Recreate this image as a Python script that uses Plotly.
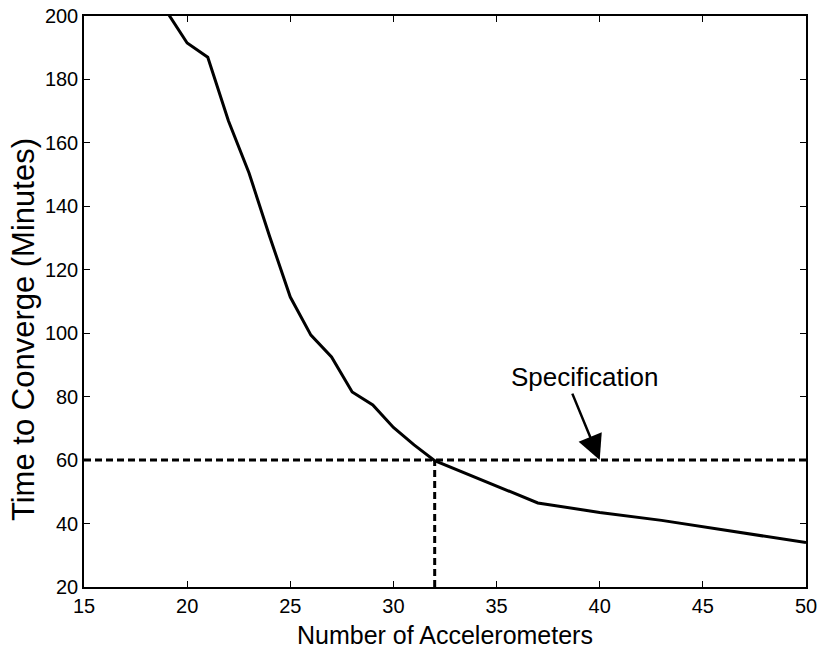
import plotly.graph_objects as go

# Data
accel = [19, 20, 21, 22, 23, 24, 25, 26, 27, 28, 29, 30, 31, 32, 37, 40, 43, 45, 48, 50]
minutes = [201.5, 191.5, 187, 167, 150.5, 130.5, 111.4, 99.4, 92.5, 81.5, 77.4, 70.3, 64.8, 59.8,
           46.5, 43.5, 41, 39, 36, 34]

spec_x = [15, 50]
spec_y = [60, 60]
cross_x = [32, 32]
cross_y = [20, 60]

x_ticks = [15, 20, 25, 30, 35, 40, 45, 50]
y_ticks = [20, 40, 60, 80, 100, 120, 140, 160, 180, 200]

FONT = "Liberation Sans, Arial, sans-serif"

fig = go.Figure()
fig.add_trace(go.Scatter(x=spec_x, y=spec_y, mode="lines",
                         line=dict(color="black", width=3, dash="7px,4px"),
                         showlegend=False, hoverinfo="skip"))
fig.add_trace(go.Scatter(x=cross_x, y=cross_y, mode="lines",
                         line=dict(color="black", width=3, dash="7px,4px"),
                         showlegend=False, hoverinfo="skip"))
fig.add_trace(go.Scatter(x=accel, y=minutes, mode="lines",
                         line=dict(color="black", width=3),
                         showlegend=False))

axis_common = dict(
    showgrid=False, zeroline=False, automargin=False,
    showline=True, linecolor="black", linewidth=1.5, mirror="ticks",
    ticks="inside", ticklen=6, tickwidth=1.2, tickcolor="black",
    tickfont=dict(family=FONT, size=20, color="black"),
)

fig.update_xaxes(range=[15, 50], tickvals=x_ticks, **axis_common)
fig.update_yaxes(range=[20, 200], tickvals=y_ticks, **axis_common)

fig.update_layout(
    width=818, height=649,
    margin=dict(l=84, r=12, t=16, b=62, autoexpand=False),
    plot_bgcolor="white", paper_bgcolor="white",
    font=dict(family=FONT, color="black"),
    annotations=[
        dict(text="Number of Accelerometers", xref="paper", yref="paper",
             x=0.5, y=0, xanchor="center", yanchor="middle", yshift=-48,
             showarrow=False, font=dict(family=FONT, size=25, color="black")),
        dict(text="Time to Converge (Minutes)", xref="paper", yref="paper",
             x=0, y=0.45, xanchor="center", yanchor="middle", xshift=-61,
             textangle=-90, showarrow=False,
             font=dict(family=FONT, size=31, color="black")),
        dict(text="Specification", xref="x", yref="y",
             x=39.25, y=60, xanchor="center", yanchor="middle", yshift=83,
             showarrow=False, font=dict(family=FONT, size=26, color="black")),
        dict(text="", xref="x", yref="y", x=40, y=60,
             ax=-28, ay=-68, showarrow=True, arrowhead=2, arrowsize=2,
             arrowwidth=2.5, arrowcolor="black", standoff=0),
    ],
)

fig.write_html("out.html")
